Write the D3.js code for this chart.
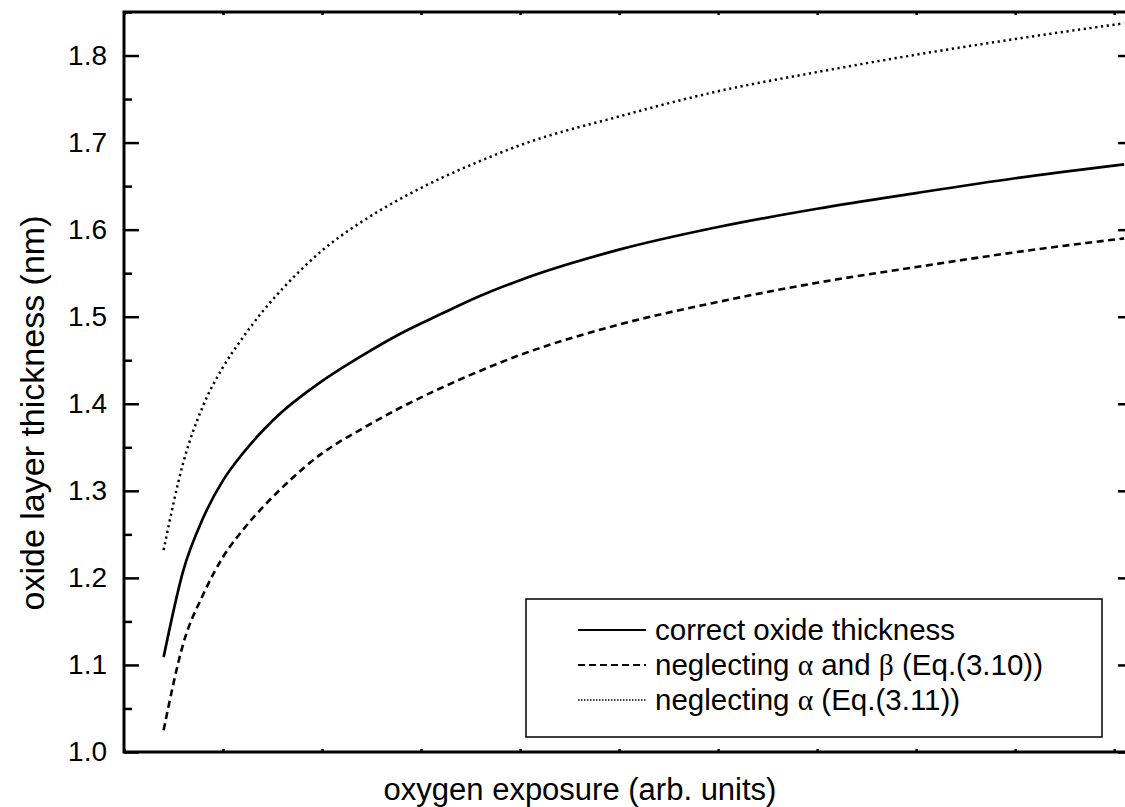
<!DOCTYPE html>
<html lang="en">

<head>
  <meta charset="UTF-8">
  <title>oxide layer thickness</title>
  <style>
    body { margin: 0; background: #fff; }
    text { font-family: 'Liberation Sans', Arial, sans-serif; fill: #000; }
  </style>
</head>

<body>
  <svg id="svg" width="1125" height="807"></svg>

  <script src="https://d3js.org/d3.v7.min.js"></script>
  <script>
    // values
    const exposure = [0.4, 0.6, 0.8, 1.0, 1.2, 1.4, 1.6, 2.0, 2.4, 2.8, 3.2, 3.6, 4.0, 5.0, 6.0, 7.0, 8.0, 9.0, 10.1]
    const correct = [1.109, 1.209, 1.269, 1.312, 1.343, 1.369, 1.391, 1.426, 1.455, 1.481, 1.503, 1.524, 1.542, 1.577, 1.603, 1.624, 1.642, 1.659, 1.675]
    const noAlphaBeta = [1.025, 1.125, 1.181, 1.224, 1.255, 1.281, 1.304, 1.343, 1.371, 1.396, 1.418, 1.438, 1.456, 1.491, 1.517, 1.539, 1.557, 1.574, 1.590]
    const noAlpha = [1.232, 1.333, 1.398, 1.442, 1.476, 1.506, 1.532, 1.576, 1.609, 1.636, 1.659, 1.679, 1.697, 1.730, 1.759, 1.781, 1.801, 1.819, 1.837]

    const yMajor = [1.0, 1.1, 1.2, 1.3, 1.4, 1.5, 1.6, 1.7, 1.8]
    const yMinor = [1.05, 1.15, 1.25, 1.35, 1.45, 1.55, 1.65, 1.75, 1.85]
    const xTicks = [0, 1, 2, 3, 4, 5, 6, 7, 8, 9, 10]

    const series = [
      { name: 'correct oxide thickness', values: correct, dash: null, width: 2.7 },
      { name: 'alphaBeta', values: noAlphaBeta, dash: '7,4.5', width: 2.6 },
      { name: 'alpha', values: noAlpha, dash: '2.2,3.6', width: 2.5 }
    ]

    const svg = d3.select('#svg')

    const plotLeft = 124, plotRight = 1134, plotTop = 12, plotBottom = 752

    const xScale = d3.scaleLinear()
      .domain([0, 10.2])
      .range([plotLeft, plotRight])

    const yScale = d3.scaleLinear()
      .domain([1.0, 1.85])
      .range([plotBottom, plotTop])

    // curves
    const line = d3.line()
      .x(d => xScale(d[0]))
      .y(d => yScale(d[1]))
      .curve(d3.curveMonotoneX)

    svg.append('g')
      .selectAll('path')
      .data(series)
      .enter()
      .append('path')
      .attr('d', s => line(exposure.map((x, i) => [x, s.values[i]])))
      .attr('fill', 'none')
      .attr('stroke', '#000')
      .attr('stroke-width', s => s.width)
      .attr('stroke-dasharray', s => s.dash)

    // left axis, inward ticks
    const leftAxis = svg.append('g')
      .attr('transform', `translate(${plotLeft},0)`)
      .call(d3.axisLeft(yScale).tickValues(yMajor).tickSize(-15).tickPadding(17).tickFormat(d3.format('.1f')))
    leftAxis.selectAll('text').style('font-size', '28px')
    svg.append('g')
      .attr('transform', `translate(${plotLeft},0)`)
      .call(d3.axisLeft(yScale).tickValues(yMinor).tickSize(-8).tickFormat(''))

    // right axis
    svg.append('g')
      .attr('transform', `translate(${plotRight},0)`)
      .call(d3.axisRight(yScale).tickValues(yMajor).tickSize(-16).tickFormat(''))
    svg.append('g')
      .attr('transform', `translate(${plotRight},0)`)
      .call(d3.axisRight(yScale).tickValues(yMinor).tickSize(-8).tickFormat(''))

    // top and bottom, tiny ticks
    svg.append('g')
      .attr('transform', `translate(0,${plotBottom})`)
      .call(d3.axisBottom(xScale).tickValues(xTicks).tickSize(-3).tickFormat(''))
    svg.append('g')
      .attr('transform', `translate(0,${plotTop})`)
      .call(d3.axisTop(xScale).tickValues(xTicks).tickSize(-3).tickFormat(''))

    svg.selectAll('.domain').remove()
    svg.selectAll('.tick line').attr('stroke', '#000').attr('stroke-width', 2.5)

    // frame
    svg.append('rect')
      .attr('x', plotLeft)
      .attr('y', plotTop)
      .attr('width', plotRight - plotLeft)
      .attr('height', plotBottom - plotTop)
      .attr('fill', 'none')
      .attr('stroke', '#000')
      .attr('stroke-width', 3)

    // axis titles
    svg.append('text')
      .text('oxygen exposure (arb. units)')
      .attr('x', 580)
      .attr('y', 800)
      .attr('text-anchor', 'middle')
      .style('font-size', '31px')

    svg.append('text')
      .text('oxide layer thickness (nm)')
      .attr('transform', 'translate(44,413) rotate(-90)')
      .attr('text-anchor', 'middle')
      .style('font-size', '34px')

    // legend
    const legend = svg.append('g')
    legend.append('rect')
      .attr('x', 526)
      .attr('y', 599)
      .attr('width', 576)
      .attr('height', 138)
      .attr('fill', '#fff')
      .attr('stroke', '#000')
      .attr('stroke-width', 1.5)

    const rows = legend.selectAll('g.row')
      .data(series)
      .enter()
      .append('g')
      .attr('class', 'row')
      .attr('transform', (d, i) => `translate(0,${630 + i * 35})`)

    rows.append('line')
      .attr('x1', 578)
      .attr('x2', 646)
      .attr('stroke', '#000')
      .attr('stroke-width', (d, i) => i === 2 ? 1.5 : 2.2)
      .attr('stroke-dasharray', (d, i) => i === 1 ? '7,4' : (i === 2 ? '1.5,1.5' : null))

    const labels = rows.append('text')
      .attr('x', 655)
      .attr('y', 10)
      .style('font-size', '29.5px')

    labels.each(function (d, i) {
      const t = d3.select(this)
      const greek = s => t.append('tspan').text(s).style('font-family', "'Liberation Serif', serif")
      if (i === 0) {
        t.append('tspan').text('correct oxide thickness')
      } else if (i === 1) {
        t.append('tspan').text('neglecting ')
        greek('\u03b1')
        t.append('tspan').text(' and ')
        greek('\u03b2')
        t.append('tspan').text(' (Eq.(3.10))')
      } else {
        t.append('tspan').text('neglecting ')
        greek('\u03b1')
        t.append('tspan').text(' (Eq.(3.11))')
      }
    })
  </script>

</body>

</html>
